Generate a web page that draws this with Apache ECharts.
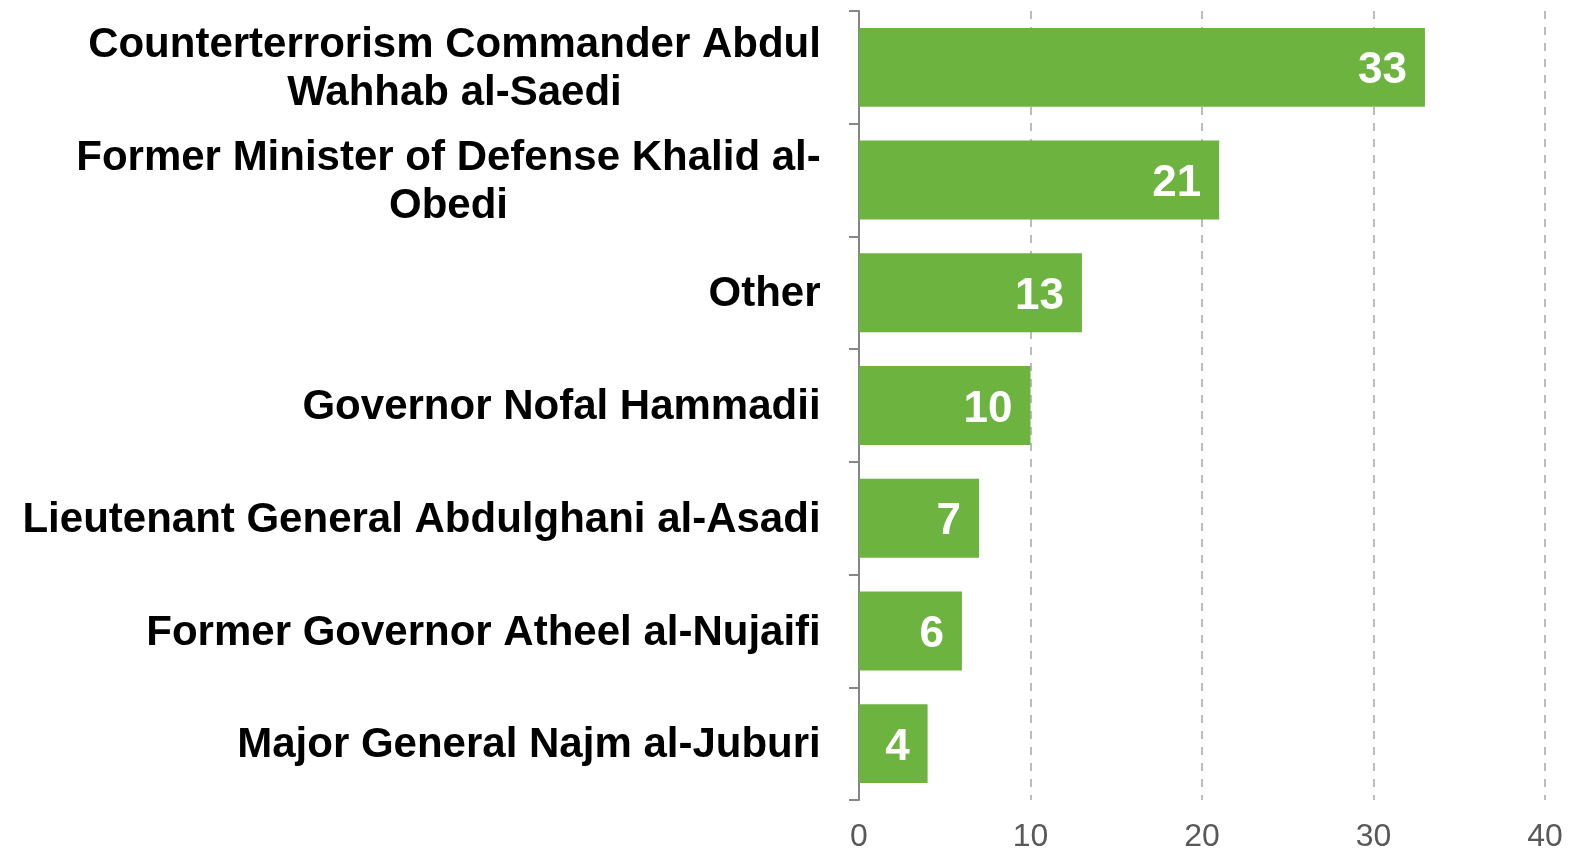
<!DOCTYPE html>
<html>
<head>
<meta charset="utf-8">
<script src="https://cdn.jsdelivr.net/npm/echarts@6/dist/echarts.min.js"></script>
<style>
html, body { margin: 0; padding: 0; background: #fff; }
#chart { width: 1578px; height: 852px; }
</style>
</head>
<body>
<div id="chart"></div>
<script>
const categories = [
  "Counterterrorism Commander Abdul\nWahhab al-Saedi",
  "Former Minister of Defense Khalid al-\nObedi",
  "Other",
  "Governor Nofal Hammadii",
  "Lieutenant General Abdulghani al-Asadi",
  "Former Governor Atheel al-Nujaifi",
  "Major General Najm al-Juburi"
];
const values = [33, 21, 13, 10, 7, 6, 4];
const xTicks = [0, 10, 20, 30, 40];

const labelFont = "bold 42px 'Liberation Sans', Arial, sans-serif";

// width of the longest line, so wrapped labels can be centred in their block
const ctx = document.createElement("canvas").getContext("2d");
ctx.font = labelFont;
function blockWidth(s) {
  return Math.max(...s.split("\n").map(l => ctx.measureText(l).width));
}

const chart = echarts.init(document.getElementById("chart"));

chart.setOption({
  animation: false,
  grid: { left: 859, right: 33, top: 11, bottom: 52, outerBoundsMode: "none" },
  xAxis: {
    type: "value",
    min: xTicks[0],
    max: xTicks[xTicks.length - 1],
    interval: 10,
    axisLine: { show: false },
    axisTick: { show: false },
    splitLine: { lineStyle: { color: "#a6a6a6", type: [8, 8], width: 1.5 } },
    axisLabel: {
      color: "#595959",
      fontSize: 32,
      fontFamily: "Liberation Sans, Arial, sans-serif",
      margin: 21
    }
  },
  yAxis: {
    type: "category",
    inverse: true,
    data: categories,
    axisLine: { show: true, lineStyle: { color: "#868686", width: 2 } },
    axisTick: { show: true, interval: 0, length: 10, lineStyle: { color: "#868686", width: 2 } },
    axisLabel: {
      margin: 38,
      align: "right",
      padding: [4, 0, 0, 0],
      formatter: function (v) {
        const w = Math.ceil(blockWidth(v));
        return v.split("\n").map(l => "{c" + w + "|" + l + "}").join("\n");
      },
      rich: (function () {
        const r = {};
        categories.forEach(c => {
          const w = Math.ceil(blockWidth(c));
          r["c" + w] = {
            width: w,
            align: "center",
            color: "#000",
            fontSize: 42,
            fontWeight: "bold",
            fontFamily: "Liberation Sans, Arial, sans-serif",
            lineHeight: 48
          };
        });
        return r;
      })()
    }
  },
  series: [
    {
      type: "bar",
      data: values,
      barCategoryGap: "30%",
      itemStyle: { color: "#6db33f" },
      label: {
        show: true,
        position: "insideRight",
        distance: 18,
        offset: [0, 4],
        color: "#fff",
        fontSize: 44,
        fontWeight: "bold",
        fontFamily: "Liberation Sans, Arial, sans-serif"
      }
    }
  ]
});
</script>
</body>
</html>
